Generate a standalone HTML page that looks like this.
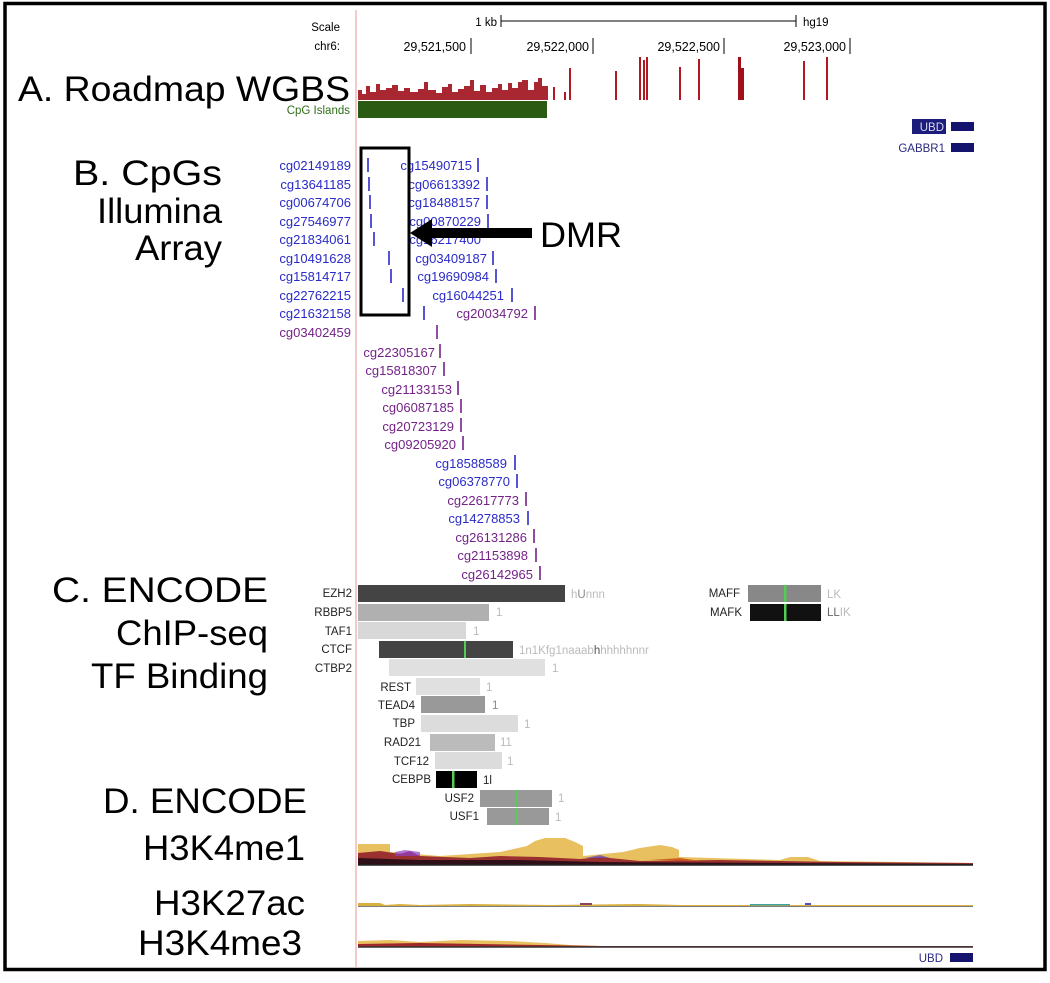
<!DOCTYPE html>
<html><head><meta charset="utf-8"><style>
html,body{margin:0;padding:0;background:#fff;}
svg{display:block;}
text{font-family:"Liberation Sans",sans-serif;}
.big{font-size:35px;fill:#000;}
.cb{fill:#2a2ac8;font-size:13px;}
.cp{fill:#742288;font-size:13px;}
.tf{font-size:11.5px;fill:#222;}
</style></head><body>
<svg width="1050" height="983" viewBox="0 0 1050 983" xmlns="http://www.w3.org/2000/svg">
<rect x="0" y="0" width="1050" height="983" fill="#fff"/>
<rect x="5" y="3.5" width="1040" height="966" fill="none" stroke="#000" stroke-width="3.5"/>
<line x1="356" y1="10" x2="356" y2="967" stroke="#f0b8b8" stroke-width="1.5"/>

<!-- Scale header -->
<text x="340" y="31" font-size="11.5" text-anchor="end">Scale</text>
<text x="340" y="50" font-size="11.5" text-anchor="end">chr6:</text>
<text x="497" y="26" font-size="11.5" text-anchor="end">1 kb</text>
<line x1="501" y1="21" x2="796" y2="21" stroke="#000"/>
<line x1="501" y1="15" x2="501" y2="27" stroke="#000"/>
<line x1="796" y1="15" x2="796" y2="27" stroke="#000"/>
<text x="803" y="26" font-size="11.5">hg19</text>
<g font-size="12.5" text-anchor="end">
<text x="466" y="51">29,521,500</text><line x1="471" y1="38" x2="471" y2="54" stroke="#000"/>
<text x="589" y="51">29,522,000</text><line x1="593" y1="38" x2="593" y2="54" stroke="#000"/>
<text x="720" y="51">29,522,500</text><line x1="724" y1="38" x2="724" y2="54" stroke="#000"/>
<text x="846" y="51">29,523,000</text><line x1="850" y1="38" x2="850" y2="54" stroke="#000"/>
</g>

<!-- WGBS -->
<text class="big" x="18" y="101" textLength="332" lengthAdjust="spacingAndGlyphs">A. Roadmap WGBS</text>
<g fill="#a0101a">
<path d="M358 100 L358 90 L362 90 L362 94 L366 94 L366 86 L370 86 L370 92 L376 92 L376 84 L380 84 L380 90 L386 90 L386 88 L392 88 L392 85 L398 85 L398 91 L404 91 L404 88 L410 88 L410 92 L418 92 L418 89 L424 89 L424 82 L428 82 L428 90 L436 90 L436 93 L442 93 L442 87 L448 87 L448 84 L452 84 L452 92 L458 92 L458 89 L464 89 L464 86 L470 86 L470 80 L474 80 L474 91 L480 91 L480 85 L486 85 L486 92 L492 92 L492 88 L498 88 L498 84 L502 84 L502 90 L508 90 L508 83 L512 83 L512 88 L518 88 L518 82 L522 82 L522 80 L528 80 L528 90 L534 90 L534 82 L538 82 L538 78 L542 78 L542 86 L548 86 L548 100 Z" opacity="0.9"/>
</g>
<g stroke="#b01822" stroke-width="2">
<line x1="554" y1="100" x2="554" y2="87"/>
<line x1="565" y1="100" x2="565" y2="92"/>
<line x1="570" y1="100" x2="570" y2="68"/>
<line x1="616" y1="100" x2="616" y2="71"/>
<line x1="640" y1="100" x2="640" y2="57"/>
<line x1="644" y1="100" x2="644" y2="60"/>
<line x1="647" y1="100" x2="647" y2="57"/>
<line x1="680" y1="100" x2="680" y2="67"/>
<line x1="699" y1="100" x2="699" y2="59"/>
<line x1="804" y1="100" x2="804" y2="61"/>
<line x1="827" y1="100" x2="827" y2="57"/>
</g>
<path d="M738 100 L738 57 L741 57 L741 68 L744 68 L744 100 Z" fill="#a0101a"/>
<text x="350" y="114" font-size="11.5" fill="#2e6e1a" text-anchor="end">CpG Islands</text>
<rect x="358" y="101" width="189" height="17" fill="#2b5a12"/>

<!-- UBD / GABBR1 top right -->
<rect x="912" y="119" width="34" height="15" fill="#1c1c7a"/>
<text x="944" y="131" font-size="11.5" fill="#d8d8f0" text-anchor="end">UBD</text>
<rect x="951" y="122" width="23" height="9" fill="#14146e"/>
<text x="945" y="152" font-size="11.5" fill="#2a2a80" text-anchor="end">GABBR1</text>
<rect x="951" y="143" width="23" height="9" fill="#14146e"/>

<!-- B labels -->
<text class="big" x="73" y="185" textLength="149" lengthAdjust="spacingAndGlyphs">B.  CpGs</text>
<text class="big" x="97" y="223" textLength="125" lengthAdjust="spacingAndGlyphs">Illumina</text>
<text class="big" x="135" y="260" textLength="87" lengthAdjust="spacingAndGlyphs">Array</text>

<!-- CpG list -->
<g text-anchor="end">
<text class="cb" x="351" y="170">cg02149189</text>
<text class="cb" x="351" y="189">cg13641185</text>
<text class="cb" x="351" y="207">cg00674706</text>
<text class="cb" x="351" y="226">cg27546977</text>
<text class="cb" x="351" y="244">cg21834061</text>
<text class="cb" x="351" y="263">cg10491628</text>
<text class="cb" x="351" y="281">cg15814717</text>
<text class="cb" x="351" y="300">cg22762215</text>
<text class="cb" x="351" y="318">cg21632158</text>
<text class="cp" x="351" y="337">cg03402459</text>

<text class="cb" x="472" y="170">cg15490715</text>
<text class="cb" x="480" y="189">cg06613392</text>
<text class="cb" x="480" y="207">cg18488157</text>
<text class="cb" x="481" y="226">cg00870229</text>
<text class="cb" x="481" y="244">cg16217400</text>
<text class="cb" x="487" y="263">cg03409187</text>
<text class="cb" x="489" y="281">cg19690984</text>
<text class="cb" x="504" y="300">cg16044251</text>
<text class="cp" x="528" y="318">cg20034792</text>

<text class="cp" x="435" y="357">cg22305167</text>
<text class="cp" x="437" y="375">cg15818307</text>
<text class="cp" x="452" y="394">cg21133153</text>
<text class="cp" x="454" y="412">cg06087185</text>
<text class="cp" x="454" y="431">cg20723129</text>
<text class="cp" x="456" y="449">cg09205920</text>
<text class="cb" x="507" y="468">cg18588589</text>
<text class="cb" x="510" y="486">cg06378770</text>
<text class="cp" x="519" y="505">cg22617773</text>
<text class="cb" x="520" y="523">cg14278853</text>
<text class="cp" x="527" y="542">cg26131286</text>
<text class="cp" x="528" y="560">cg21153898</text>
<text class="cp" x="533" y="579">cg26142965</text>
</g>
<g stroke-width="1.6">
<g stroke="#2a2ac8">
<line x1="368" y1="158" x2="368" y2="172"/>
<line x1="369" y1="177" x2="369" y2="191"/>
<line x1="370" y1="195" x2="370" y2="209"/>
<line x1="371" y1="214" x2="371" y2="228"/>
<line x1="374" y1="232" x2="374" y2="246"/>
<line x1="389" y1="251" x2="389" y2="265"/>
<line x1="391" y1="269" x2="391" y2="283"/>
<line x1="403" y1="288" x2="403" y2="302"/>
<line x1="424" y1="306" x2="424" y2="320"/>
<line x1="478" y1="158" x2="478" y2="172"/>
<line x1="487" y1="177" x2="487" y2="191"/>
<line x1="487" y1="195" x2="487" y2="209"/>
<line x1="488" y1="214" x2="488" y2="228"/>
<line x1="493" y1="251" x2="493" y2="265"/>
<line x1="496" y1="269" x2="496" y2="283"/>
<line x1="512" y1="288" x2="512" y2="302"/>
<line x1="515" y1="455" x2="515" y2="470"/>
<line x1="517" y1="474" x2="517" y2="488"/>
<line x1="528" y1="511" x2="528" y2="525"/>
</g>
<g stroke="#742288">
<line x1="535" y1="306" x2="535" y2="320"/>
<line x1="437" y1="325" x2="437" y2="339"/>
<line x1="440" y1="344" x2="440" y2="358"/>
<line x1="444" y1="362" x2="444" y2="376"/>
<line x1="458" y1="381" x2="458" y2="395"/>
<line x1="461" y1="399" x2="461" y2="413"/>
<line x1="461" y1="418" x2="461" y2="432"/>
<line x1="463" y1="436" x2="463" y2="450"/>
<line x1="526" y1="492" x2="526" y2="506"/>
<line x1="534" y1="529" x2="534" y2="543"/>
<line x1="536" y1="548" x2="536" y2="562"/>
<line x1="540" y1="566" x2="540" y2="580"/>
</g>
</g>

<!-- DMR box and arrow -->
<rect x="361" y="148" width="48" height="167" fill="none" stroke="#000" stroke-width="3"/>
<rect x="425" y="228" width="107" height="10" fill="#000"/>
<polygon points="410,233 432,219 432,247" fill="#000"/>
<text class="big" x="540" y="247" textLength="82" lengthAdjust="spacingAndGlyphs">DMR</text>

<!-- C labels -->
<text class="big" x="52" y="602" textLength="216" lengthAdjust="spacingAndGlyphs">C.  ENCODE</text>
<text class="big" x="116" y="645" textLength="152" lengthAdjust="spacingAndGlyphs">ChIP-seq</text>
<text class="big" x="91" y="688" textLength="177" lengthAdjust="spacingAndGlyphs">TF Binding</text>

<!-- TF tracks -->
<g class="tf" text-anchor="end">
<text x="352" y="597">EZH2</text>
<text x="352" y="616">RBBP5</text>
<text x="352" y="635">TAF1</text>
<text x="352" y="653">CTCF</text>
<text x="352" y="672">CTBP2</text>
<text x="411" y="691">REST</text>
<text x="415" y="709">TEAD4</text>
<text x="415" y="727">TBP</text>
<text x="421" y="746">RAD21</text>
<text x="429" y="765">TCF12</text>
<text x="431" y="783">CEBPB</text>
<text x="474" y="802">USF2</text>
<text x="479" y="820">USF1</text>
<text x="740" y="597">MAFF</text>
<text x="742" y="616">MAFK</text>
</g>
<rect x="358" y="585" width="207" height="17" fill="#444"/>
<rect x="358" y="604" width="131" height="17" fill="#b0b0b0"/>
<rect x="358" y="622" width="108" height="17" fill="#d8d8d8"/>
<rect x="379" y="641" width="134" height="17" fill="#444"/><rect x="464" y="641" width="2" height="17" fill="#5c5"/>
<rect x="389" y="659" width="156" height="17" fill="#e0e0e0"/>
<rect x="416" y="678" width="64" height="17" fill="#e0e0e0"/>
<rect x="421" y="696" width="64" height="17" fill="#999"/>
<rect x="421" y="715" width="97" height="17" fill="#dcdcdc"/>
<rect x="430" y="734" width="65" height="17" fill="#bbb"/>
<rect x="435" y="752" width="67" height="17" fill="#dcdcdc"/>
<rect x="436" y="771" width="41" height="17" fill="#000"/><rect x="452" y="771" width="2.5" height="17" fill="#5c5"/>
<rect x="480" y="790" width="72" height="17" fill="#999"/><rect x="516" y="790" width="2" height="17" fill="#5c5"/>
<rect x="487" y="808" width="62" height="17" fill="#999"/><rect x="516" y="808" width="2" height="17" fill="#5c5"/>
<rect x="748" y="585" width="73" height="17" fill="#888"/><rect x="784" y="585" width="2.5" height="17" fill="#5c5"/>
<rect x="750" y="604" width="71" height="17" fill="#111"/><rect x="784" y="604" width="2.5" height="17" fill="#5c5"/>
<g font-size="11.5" fill="#bbb">
<text x="571" y="598">h<tspan fill="#888">U</tspan>nnn</text>
<text x="496" y="616">1</text>
<text x="473" y="635">1</text>
<text x="519" y="654">1n1Kfg1naaab<tspan fill="#555">h</tspan>hhhhhnnr</text>
<text x="552" y="672">1</text>
<text x="486" y="691">1</text>
<text x="492" y="709" fill="#888">1</text>
<text x="524" y="728">1</text>
<text x="500" y="746">11</text>
<text x="507" y="765">1</text>
<text x="483" y="784" fill="#222">1l</text>
<text x="558" y="802">1</text>
<text x="555" y="821">1</text>
<text x="827" y="598">LK</text>
<text x="827" y="616"><tspan fill="#666">LL</tspan>IK</text>
</g>

<!-- D labels -->
<text class="big" x="103" y="813" textLength="204" lengthAdjust="spacingAndGlyphs">D. ENCODE</text>
<text class="big" x="143" y="860" textLength="162" lengthAdjust="spacingAndGlyphs">H3K4me1</text>
<text class="big" x="154" y="915" textLength="151" lengthAdjust="spacingAndGlyphs">H3K27ac</text>
<text class="big" x="138" y="955" textLength="164" lengthAdjust="spacingAndGlyphs">H3K4me3</text>

<!-- H3K4me1 -->
<path d="M358 865 L358 844 L390 844 L390 852 L440 856 L500 852 L527 846 L535 841 L545 838 L565 838 L575 842 L583 846 L583 856 L623 852 L640 848 L660 845 L672 847 L679 850 L679 857 L780 860 L790 857 L808 857 L820 861 L973 863 L973 865 Z" fill="#e8c060"/>
<path d="M358 865 L358 853 L380 851 L400 854 L410 851 L420 856 L470 858 L500 856 L540 857 L580 859 L600 857 L640 861 L720 860 L780 861 L840 862 L973 863 L973 865 Z" fill="#9a3030"/>
<path d="M395 852 L405 850 L420 852 L420 856 L395 856 Z" fill="#9040c8" opacity="0.7"/>
<path d="M585 858 L600 855 L610 858 Z" fill="#6040c0" opacity="0.7"/>
<path d="M650 860 L680 858 L700 861 Z" fill="#d06020"/>
<path d="M358 865 L358 858 L420 860 L520 860 L600 862 L973 864 L973 865 Z" fill="#301018"/>
<line x1="358" y1="865" x2="973" y2="865" stroke="#222" stroke-width="1.5"/>

<!-- H3K27ac -->
<line x1="358" y1="906" x2="973" y2="906" stroke="#555" stroke-width="1.5"/>
<path d="M358 906 L358 903 L380 903 L385 905 L400 904 L420 905 L470 904 L550 905 L640 904 L680 905 L973 905 L973 906 Z" fill="#d8b040"/>
<rect x="580" y="903" width="12" height="2" fill="#904060"/>
<rect x="805" y="903" width="6" height="2" fill="#5050c0"/>
<rect x="750" y="904" width="40" height="1.5" fill="#40a0a0"/>

<!-- H3K4me3 -->
<path d="M358 947 L358 941 L390 940 L420 942 L460 940 L510 941 L545 943 L570 945 L600 946 L973 946 L973 947 Z" fill="#e8c060"/>
<path d="M358 947 L358 944 L420 943 L480 944 L540 945 L600 946 L973 946 L973 947 Z" fill="#a02828"/>
<line x1="358" y1="947" x2="973" y2="947" stroke="#333" stroke-width="1.5"/>

<text x="943" y="962" font-size="11.5" fill="#2a2a80" text-anchor="end">UBD</text>
<rect x="950" y="953" width="23" height="9" fill="#14146e"/>
</svg>
</body></html>
